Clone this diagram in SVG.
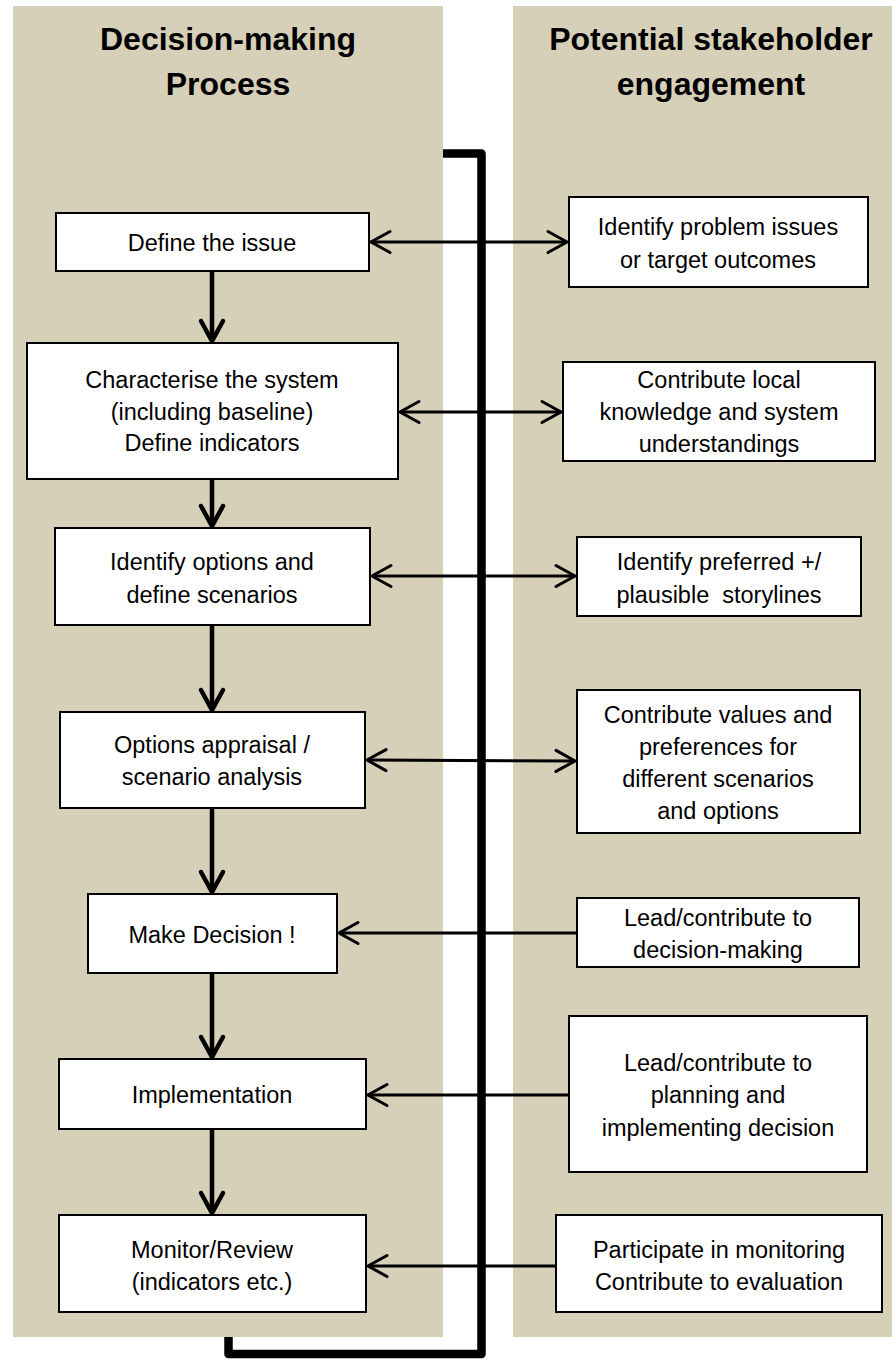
<svg xmlns="http://www.w3.org/2000/svg" width="892" height="1362" viewBox="0 0 892 1362">
  <style>
    .panel { fill: #D5D0B7; }
    .box { fill: #FFFFFF; stroke: #000000; stroke-width: 2; }
    .t { font-family: "Liberation Sans", Arial, sans-serif; font-size: 23.5px; fill: #000000; text-anchor: middle; }
    .title { font-family: "Liberation Sans", Arial, sans-serif; font-size: 32px; font-weight: bold; fill: #000000; text-anchor: middle; }
    .h { fill: none; stroke: #000000; stroke-width: 3; }
    .v { fill: none; stroke: #000000; stroke-width: 4.5; }
    .loop { fill: none; stroke: #000000; stroke-width: 8.5; stroke-linejoin: round; }
  </style>
  <defs>
    <marker id="ah" markerUnits="userSpaceOnUse" markerWidth="30" markerHeight="30" refX="20" refY="11" orient="auto-start-reverse" overflow="visible">
      <path d="M1,0.5 L20,11 L1,21.5" fill="none" stroke="#000000" stroke-width="3" stroke-linecap="round"/>
    </marker>
    <marker id="av" markerUnits="userSpaceOnUse" markerWidth="30" markerHeight="30" refX="21" refY="11" orient="auto" overflow="visible">
      <path d="M1,0 L21,11 L1,22" fill="none" stroke="#000000" stroke-width="4.5" stroke-linecap="round"/>
    </marker>
  </defs>

  <g id="panels">
    <rect class="panel" x="13" y="6" width="430" height="1331"/>
    <rect class="panel" x="513" y="6" width="379" height="1331"/>
    <text class="title" x="228" y="50">Decision-making</text>
    <text class="title" x="228" y="95">Process</text>
    <text class="title" x="711" y="50">Potential stakeholder</text>
    <text class="title" x="711" y="95">engagement</text>
  </g>

  <g id="connectors">
    <path class="loop" d="M443,153.5 H481.5 V1354 H228.5 V1337"/>
    <line class="h" x1="371" y1="242" x2="567" y2="242" marker-start="url(#ah)" marker-end="url(#ah)"/>
    <line class="h" x1="400" y1="412" x2="561" y2="412" marker-start="url(#ah)" marker-end="url(#ah)"/>
    <line class="h" x1="372" y1="576" x2="575" y2="576" marker-start="url(#ah)" marker-end="url(#ah)"/>
    <line class="h" x1="367" y1="760" x2="575" y2="761" marker-start="url(#ah)" marker-end="url(#ah)"/>
    <line class="h" x1="577" y1="933" x2="339" y2="933" marker-end="url(#ah)"/>
    <line class="h" x1="569" y1="1095" x2="368" y2="1095" marker-end="url(#ah)"/>
    <line class="h" x1="556" y1="1266" x2="368" y2="1266" marker-end="url(#ah)"/>
    <line class="v" x1="212" y1="271" x2="212" y2="341" marker-end="url(#av)"/>
    <line class="v" x1="212" y1="479" x2="212" y2="526" marker-end="url(#av)"/>
    <line class="v" x1="212" y1="625" x2="212" y2="710" marker-end="url(#av)"/>
    <line class="v" x1="212" y1="808" x2="212" y2="892" marker-end="url(#av)"/>
    <line class="v" x1="212" y1="973" x2="212" y2="1057" marker-end="url(#av)"/>
    <line class="v" x1="212" y1="1129" x2="212" y2="1213" marker-end="url(#av)"/>
  </g>

  <g id="n-define">
    <rect class="box" x="56" y="213" width="313" height="58"/>
    <text class="t" x="212" y="251">Define the issue</text>
  </g>
  <g id="n-characterise">
    <rect class="box" x="27" y="343" width="371" height="136"/>
    <text class="t" x="212" y="388">Characterise the system</text>
    <text class="t" x="212" y="420">(including baseline)</text>
    <text class="t" x="212" y="451">Define indicators</text>
  </g>
  <g id="n-options">
    <rect class="box" x="55" y="528" width="315" height="97"/>
    <text class="t" x="212" y="570">Identify options and</text>
    <text class="t" x="212" y="603">define scenarios</text>
  </g>
  <g id="n-appraisal">
    <rect class="box" x="60" y="712" width="305" height="96"/>
    <text class="t" x="212" y="753">Options appraisal /</text>
    <text class="t" x="212" y="785">scenario analysis</text>
  </g>
  <g id="n-decision">
    <rect class="box" x="88" y="894" width="249" height="79"/>
    <text class="t" x="212" y="943">Make Decision !</text>
  </g>
  <g id="n-implementation">
    <rect class="box" x="59" y="1059" width="307" height="70"/>
    <text class="t" x="212" y="1103">Implementation</text>
  </g>
  <g id="n-monitor">
    <rect class="box" x="59" y="1215" width="307" height="97"/>
    <text class="t" x="212" y="1258">Monitor/Review</text>
    <text class="t" x="212" y="1290">(indicators etc.)</text>
  </g>

  <g id="s-identify">
    <rect class="box" x="569" y="197" width="299" height="90"/>
    <text class="t" x="718" y="235">Identify problem issues</text>
    <text class="t" x="718" y="268">or target outcomes</text>
  </g>
  <g id="s-local">
    <rect class="box" x="563" y="362" width="312" height="99"/>
    <text class="t" x="719" y="388">Contribute local</text>
    <text class="t" x="719" y="420">knowledge and system</text>
    <text class="t" x="719" y="452">understandings</text>
  </g>
  <g id="s-storylines">
    <rect class="box" x="577" y="537" width="284" height="79"/>
    <text class="t" x="719" y="570">Identify preferred +/</text>
    <text class="t" x="719" y="603" xml:space="preserve">plausible  storylines</text>
  </g>
  <g id="s-values">
    <rect class="box" x="577" y="690" width="283" height="143"/>
    <text class="t" x="718" y="723">Contribute values and</text>
    <text class="t" x="718" y="755">preferences for</text>
    <text class="t" x="718" y="787">different scenarios</text>
    <text class="t" x="718" y="819">and options</text>
  </g>
  <g id="s-lead-decision">
    <rect class="box" x="577" y="898" width="282" height="69"/>
    <text class="t" x="718" y="926">Lead/contribute to</text>
    <text class="t" x="718" y="958">decision-making</text>
  </g>
  <g id="s-lead-planning">
    <rect class="box" x="569" y="1016" width="298" height="156"/>
    <text class="t" x="718" y="1071">Lead/contribute to</text>
    <text class="t" x="718" y="1103">planning and</text>
    <text class="t" x="718" y="1136">implementing decision</text>
  </g>
  <g id="s-participate">
    <rect class="box" x="556" y="1215" width="326" height="97"/>
    <text class="t" x="719" y="1258">Participate in monitoring</text>
    <text class="t" x="719" y="1290">Contribute to evaluation</text>
  </g>
</svg>
